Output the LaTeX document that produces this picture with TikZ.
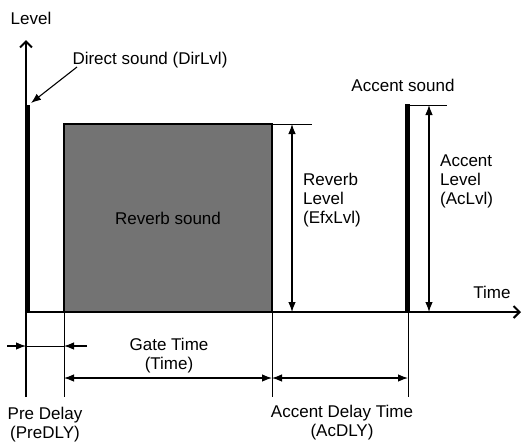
\documentclass[tikz,border=0pt]{standalone}
\usepackage{fontspec}
\setmainfont{Liberation Sans}
\usetikzlibrary{arrows.meta}
\begin{document}
\begin{tikzpicture}[x=1pt,y=-1pt,
  lbl/.style={font=\fontsize{17}{19}\selectfont, inner sep=0pt, align=center},
  lbll/.style={font=\fontsize{17}{19}\selectfont, inner sep=0pt, align=left, anchor=west},
  tipd/.tip={Latex[length=10pt,width=7.5pt]},
  dimarrow/.style={line width=1.1pt, tipd-tipd},
  onearrow/.style={line width=1.1pt, -tipd},
  axisline/.style={line width=2pt, -{Straight Barb[length=6pt,width=12pt,line width=2pt]}},
  extline/.style={line width=0.8pt},
  bar/.style={line width=4.5pt},
  revbox/.style={draw, line width=1.8pt, fill=black!55, inner sep=0pt, outer sep=0pt}]
\useasboundingbox (0,0) rectangle (522,445);

% coordinates
\coordinate (O) at (26,312);
\coordinate (Ytop) at (26,40);
\coordinate (Ybot) at (26,397);
\coordinate (Xend) at (521,312);
\coordinate (D0) at (27.5,312);
\coordinate (D1) at (27.5,105);
\coordinate (RT) at (272,124);
\coordinate (RTe) at (312,124);
\coordinate (RL0) at (292,124);
\coordinate (RL1) at (292,312);
\coordinate (A0) at (407.5,312);
\coordinate (A1) at (407.5,104);
\coordinate (AT0) at (405.5,105);
\coordinate (AT1) at (447,105);
\coordinate (AL0) at (429,105);
\coordinate (AL1) at (429,312);
\coordinate (E1a) at (64,312);
\coordinate (E1b) at (64,397);
\coordinate (E2a) at (272,312);
\coordinate (E2b) at (272,397);
\coordinate (E3a) at (408,312);
\coordinate (E3b) at (408,397);
\coordinate (P0) at (7,346);
\coordinate (P1) at (26,346);
\coordinate (P2) at (64,346);
\coordinate (P3) at (87,346);
\coordinate (G0) at (64,378);
\coordinate (G1) at (272,378);
\coordinate (G2) at (408,378);
\coordinate (DA0) at (77,67);
\coordinate (DA1) at (31,103);

% reverb box
\node[revbox, minimum width=208pt, minimum height=188pt, anchor=north west] (rev) at (64,124) {};
\node[lbl] (revtxt) at (rev.center) {Reverb sound};

% axes
\draw[axisline] (Ybot) -- (Ytop);
\draw[axisline] (O) -- (Xend);

% direct sound bar
\draw[bar] (D0) -- (D1);

% reverb level
\draw[line width=1pt] (RT) -- (RTe);
\draw[dimarrow] (RL0) -- (RL1);

% accent bar
\draw[bar] (A0) -- (A1);
\draw[line width=1pt] (AT0) -- (AT1);
\draw[dimarrow] (AL0) -- (AL1);

% extension lines
\draw[extline] (E1a) -- (E1b);
\draw[extline] (E2a) -- (E2b);
\draw[extline] (E3a) -- (E3b);

% pre delay
\draw[onearrow] (P0) -- (P1);
\draw[onearrow] (P3) -- (P2);
\draw[line width=1pt] (P1) -- (P2);

% gate time and accent delay
\draw[dimarrow] (G0) -- (G1);
\draw[dimarrow] (G1) -- (G2);

% direct sound pointer
\draw[onearrow] (DA0) -- (DA1);

% labels
\node[lbl] (level) at (31,18) {Level};
\node[lbl] (direct) at (150,60) {Direct sound (DirLvl)};
\node[lbl] (accent) at (403,85) {Accent sound};
\node[lbll] (revlvl) at (303,200) {Reverb\\Level\\(EfxLvl)};
\node[lbll] (aclvl) at (440,181) {Accent\\Level\\(AcLvl)};
\node[lbl] (time) at (492,292) {Time};
\node[lbl] (gate) at (169,356) {Gate Time\\(Time)};
\node[lbl] (pre) at (45,425) {Pre Delay\\(PreDLY)};
\node[lbl] (acdly) at (342,423) {Accent Delay Time\\(AcDLY)};
\end{tikzpicture}
\end{document}
